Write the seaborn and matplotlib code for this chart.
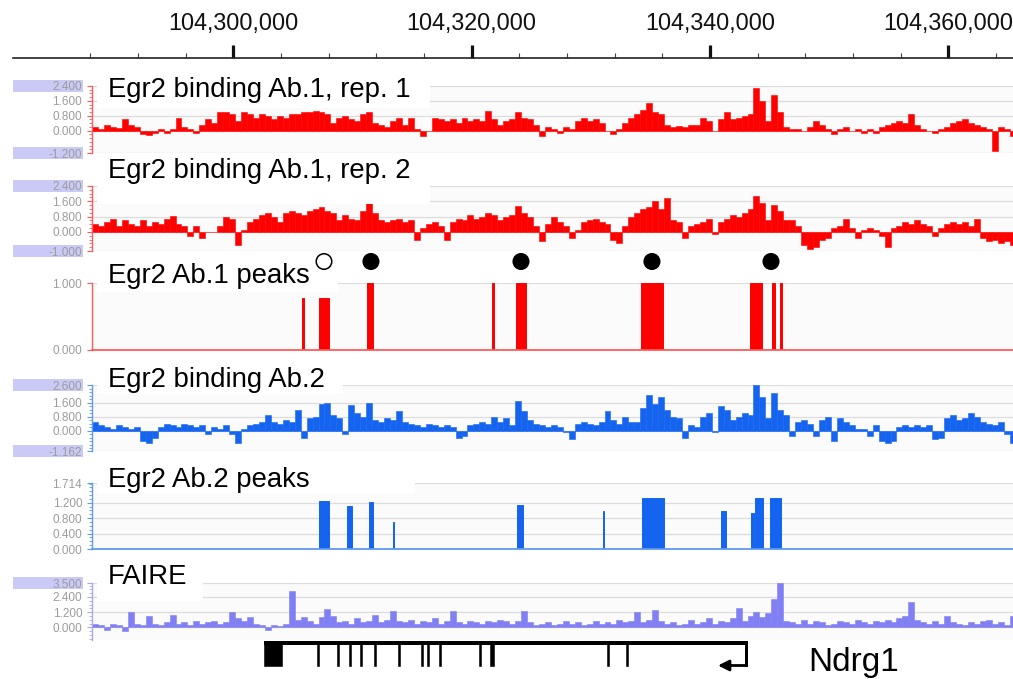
import numpy as np
import pandas as pd
import matplotlib
matplotlib.use("Agg")
import matplotlib.pyplot as plt
from matplotlib.patches import Rectangle
from matplotlib.ticker import MultipleLocator
import seaborn as sns

# ------------------------------------------------------------------ data
BIN_START = 104_288_150      # first signal bin (bp)
BIN_SIZE = 500               # signal bin size (bp)

rep1 = [0.2, 0.1, 0.3, 0.2, 0.15, 0.6, 0.3, 0.2, -0.2, -0.25,
        -0.15, 0.1, -0.1, 0.1, 0.7, 0.2, 0.1, -0.1, 0.3, 0.6,
        0.4, 1.0, 1.0, 0.9, 0.5, 1.0, 0.9, 0.7, 0.9, 0.8,
        0.6, 0.8, 0.7, 0.9, 0.9, 1.0, 1.0, 1.05, 1.0, 0.9,
        0.4, 0.7, 0.8, 0.6, 0.5, 0.9, 1.0, 0.4, 0.3, 0.2,
        0.5, 0.7, 0.3, 0.7, 0.1, -0.3, 0.0, 0.7, 0.6, 0.5,
        0.6, 0.4, 0.7, 0.5, 0.6, 0.5, 1.05, 0.6, 0.3, 0.5,
        0.6, 1.0, 0.7, 0.6, 0.3, -0.3, 0.2, 0.1, -0.1, 0.2,
        0.1, 0.5, 0.7, 0.5, 0.6, 0.4, 0.0, -0.2, 0.1, 0.4,
        0.7, 0.9, 1.1, 1.5, 1.0, 0.9, 0.3, 0.2, 0.25, 0.2,
        0.3, 0.3, 0.7, 0.5, 0.0, 0.6, 1.0, 0.6, 0.7, 0.8,
        0.9, 2.3, 1.6, 0.5, 1.9, 1.0, 0.2, 0.1, 0.1, 0.0,
        0.2, 0.5, 0.3, 0.1, -0.2, 0.1, 0.2, 0.0, 0.1, -0.1,
        0.1, -0.1, 0.2, 0.3, 0.4, 0.5, 0.4, 0.9, 0.3, 0.1,
        0.0, -0.1, 0.1, 0.2, 0.4, 0.5, 0.6, 0.4, 0.3, 0.2,
        0.1, -1.1, 0.2, 0.1, -0.3]

rep2 = [0.4, 0.3, 0.5, 0.7, 0.3, 0.6, 0.4, 0.3, 0.6, 0.3,
        0.5, 0.4, 0.7, 0.85, 0.4, 0.3, -0.2, 0.3, -0.3, 0.0,
        0.0, 0.3, 0.8, 0.7, -0.7, 0.1, 0.5, 0.7, 0.9, 1.0,
        0.8, 0.5, 1.0, 1.1, 1.0, 0.9, 1.1, 1.2, 1.3, 1.1,
        1.0, 0.6, 0.9, 0.7, 0.6, 1.1, 1.5, 1.0, 0.6, 0.5,
        0.6, 0.7, 0.5, 0.6, -0.4, 0.2, 0.4, 0.5, 0.3, -0.4,
        0.5, 0.7, 0.6, 0.9, 0.7, 0.8, 1.0, 0.9, 0.6, 0.8,
        0.9, 1.35, 1.0, 0.8, 0.3, -0.5, 0.4, 0.8, 0.5, 0.3,
        -0.3, 0.1, 0.5, 0.6, 0.7, 0.5, 0.4, -0.4, -0.6, 0.3,
        0.8, 1.0, 1.2, 1.3, 1.6, 1.2, 1.77, 0.6, 0.5, -0.3,
        0.3, 0.4, 0.5, 0.7, -0.1, 0.5, 0.7, 0.9, 0.8, 1.0,
        1.2, 1.9, 1.5, 0.6, 1.4, 1.1, 0.6, 0.6, 0.3, -0.7,
        -0.9, -0.8, -0.4, -0.3, 0.2, 0.3, 0.7, 0.2, -0.3, 0.1,
        0.2, 0.1, -0.2, -0.8, 0.2, 0.3, 0.5, 0.4, 0.6, 0.4,
        0.3, -0.2, 0.2, 0.4, 0.5, 0.4, 0.5, 0.3, 0.7, -0.3,
        -0.5, -0.4, -0.6, -0.5, -0.7]

ab2 = [0.5, 0.3, 0.2, 0.1, 0.3, 0.2, 0.1, 0.2, -0.6, -0.7,
       -0.4, 0.2, 0.4, 0.3, 0.2, 0.4, 0.3, 0.2, 0.3, -0.2,
       0.2, 0.1, 0.3, -0.2, -0.7, 0.1, 0.3, 0.4, 0.5, 0.9,
       0.5, 0.4, 0.6, 0.5, 1.2, -0.4, 0.7, 0.8, 1.5, 1.6,
       0.9, 0.7, -0.2, 1.45, 1.0, 0.8, 1.6, 0.6, 0.5, 0.7,
       0.6, 1.1, 0.5, 0.4, 0.3, 0.2, 0.4, 0.3, 0.2, 0.3,
       0.2, -0.4, -0.3, 0.3, 0.4, 0.5, 0.4, 0.8, 0.5, 0.7,
       0.3, 1.7, 1.1, 0.6, 0.4, 0.3, 0.2, 0.3, 0.2, -0.1,
       -0.5, 0.4, 0.5, 0.4, 0.3, 0.5, 1.1, 0.6, 0.4, 0.8,
       0.5, 0.5, 1.3, 2.05, 1.5, 1.9, 1.2, 0.8, 0.7, -0.4,
       0.3, 0.2, 0.8, 1.0, -0.1, 1.4, 1.2, 0.6, 0.8, 1.0,
       0.9, 2.6, 1.9, 0.7, 2.15, 1.2, 0.9, -0.3, 0.5, 0.6,
       0.4, -0.3, 0.6, 0.8, -0.6, 0.7, 0.5, 0.3, 0.1, 0.1,
       -0.3, 0.3, -0.6, -0.7, -0.6, 0.2, 0.3, 0.2, 0.3, 0.2,
       0.3, -0.5, -0.4, 0.7, 0.9, 0.6, 0.7, 1.0, 0.8, 0.5,
       0.4, 0.3, 0.5, -0.2, -0.7]

faire = [0.3, 0.2, -0.2, 0.3, 0.2, -0.3, 1.2, 0.3, 0.2, 0.9,
         0.3, 0.2, 0.4, 1.0, 0.3, 0.4, 0.2, 0.5, 0.3, 0.4,
         0.5, 0.3, 0.4, 1.2, 0.7, 0.5, 0.8, 0.3, 0.2, -0.2,
         0.2, 0.1, 0.3, 2.9, 0.6, 0.8, 0.5, 0.3, 0.8, 1.45,
         0.9, 0.4, 0.5, 0.3, 0.7, 0.4, 0.5, 1.0, 0.4, 0.6,
         1.3, 0.5, 0.4, 0.6, 0.3, 0.5, 0.4, 0.7, 0.3, 0.5,
         1.3, 0.4, 0.3, 0.5, 0.4, 0.3, 0.5, 0.4, 0.6, 0.5,
         0.3, 0.5, 1.3, 0.4, 0.2, 0.3, 0.4, 0.2, 0.3, 0.5,
         0.3, 0.4, 0.2, 0.3, 0.5, 0.3, 0.4, 0.3, 0.6, 0.4,
         0.5, 1.2, 0.4, 0.6, 1.4, 0.5, 0.3, 0.4, 0.2, 0.3,
         0.6, 0.3, 0.4, 0.7, 0.3, 0.5, 0.4, 0.7, 1.5, 0.5,
         0.9, 1.2, 0.8, 1.1, 2.2, 3.5, 0.5, 0.4, 0.3, 0.6,
         0.3, 0.5, 0.4, 0.2, 0.3, 0.5, 0.4, 0.3, 0.6, 0.4,
         0.3, 0.5, 0.4, 0.6, 0.4, 0.7, 0.9, 2.0, 0.6, 0.4,
         0.3, 0.5, 0.3, 0.9, 0.4, 0.3, 0.2, 0.4, 0.3, 0.5,
         0.6, 0.3, 0.4, 0.2, 0.9]

peaks1_start = [104305750, 104307170, 104311240, 104321710, 104323720,
                104334190, 104343380, 104345200, 104345880]
peaks1_end = [104305920, 104308010, 104311750, 104321850, 104324560,
              104336080, 104344390, 104345450, 104346020]
peaks1_height = [0.78, 0.78, 1.0, 1.0, 1.0, 1.0, 1.0, 1.0, 1.0]

circle_pos = [104307610, 104311550, 104324140, 104335130, 104345120]
circle_filled = [False, True, True, True, True]

peaks2_start = [104307190, 104309570, 104311360, 104313430, 104323830, 104331050,
                104334300, 104340900, 104343420, 104343750, 104345060]
peaks2_end = [104308030, 104309960, 104311720, 104313510, 104324310, 104331130,
              104336150, 104341340, 104343670, 104344470, 104345980]
peaks2_height = [1.25, 1.11, 1.21, 0.71, 1.13, 0.99, 1.33, 0.99, 0.94, 1.33, 1.33]

gene_name = "Ndrg1"
gene_start, gene_end = 104302570, 104343170
exon_start = [104302570, 104307000, 104308730, 104309710, 104310630, 104311780,
              104313800, 104315730, 104316230, 104317260, 104320640, 104321540,
              104331360, 104332930]
exon_end = [104304110, 104307170, 104308900, 104309880, 104310800, 104311950,
            104313970, 104315900, 104316400, 104317430, 104320810, 104321890,
            104331530, 104333100]
tss_arrow_tip = 104340670

ruler_major = [104300000, 104320000, 104340000, 104360000]
ruler_labels = ["104,300,000", "104,320,000", "104,340,000", "104,360,000"]
ruler_minor = [104288000, 104292000, 104296000, 104304000, 104308000, 104312000,
               104316000, 104324000, 104328000, 104332000, 104336000, 104344000,
               104348000, 104352000, 104356000, 104364000]

track_titles = ["Egr2 binding Ab.1, rep. 1", "Egr2 binding Ab.1, rep. 2",
                "Egr2 Ab.1 peaks", "Egr2 binding Ab.2", "Egr2 Ab.2 peaks", "FAIRE"]
ticks_rep1 = [2.4, 1.6, 0.8, 0.0, -1.2]
ticks_rep2 = [2.4, 1.6, 0.8, 0.0, -1.0]
ticks_pk1 = [1.0, 0.0]
ticks_ab2 = [2.6, 1.6, 0.8, 0.0, -1.162]
ticks_pk2 = [1.714, 1.2, 0.8, 0.4, 0.0]
ticks_faire = [3.5, 2.4, 1.2, 0.0]

# ------------------------------------------------------------------ style / layout
sns.set_theme(style="white")
plt.rcParams["font.family"] = ["Liberation Sans", "DejaVu Sans"]

W, H = 1013, 679
fig = plt.figure(figsize=(W / 100, H / 100), dpi=100)
fig.patch.set_facecolor("white")

RED = "#ff0000"
BLUE = "#1464f0"
LAV = "#8080f4"
RED_AX = "#ff5a5a"
BLUE_AX = "#5e9af2"
LAV_AX = "#a6a6f2"
LABEL_C = "#9c9c9c"
BOX_C = "#cacaf6"
GRID_C = "#dcdcdc"

PX_PER_KB = 11.917
X_AT_300 = 233.3


def gpos(px):
    return 104_300_000 + (px - X_AT_300) * 1000.0 / PX_PER_KB


XL, XR = gpos(92), gpos(1013)


def add_ax(x0, y0, x1, y1):
    return fig.add_axes([x0 / W, 1 - y1 / H, (x1 - x0) / W, (y1 - y0) / H])


def px_rect(x0, y0, x1, y1, color, z):
    r = Rectangle((x0 / W, 1 - y1 / H), (x1 - x0) / W, (y1 - y0) / H,
                  transform=fig.transFigure, facecolor=color, edgecolor="none", zorder=z)
    fig.add_artist(r)


def style_track(ax, ylim, ticks, axc, minor=None, baseline=False):
    ax.set_xlim(XL, XR)
    ax.set_ylim(*ylim)
    ax.set_facecolor("#fbfbfb")
    for s in ["top", "right", "bottom"]:
        ax.spines[s].set_visible(False)
    ax.spines["left"].set_color(axc)
    ax.spines["left"].set_linewidth(1.0)
    ax.set_yticks(ticks)
    ax.set_yticklabels([f"{t:.3f}" for t in ticks])
    ax.tick_params(axis="y", which="major", left=True, length=3.6, width=0.8,
                   color=axc, labelcolor=LABEL_C, labelsize=8.5, pad=3.4)
    if minor:
        ax.yaxis.set_minor_locator(MultipleLocator(minor))
        ax.tick_params(axis="y", which="minor", left=True, length=2.2, width=0.6, color=axc)
    ax.set_xticks([])
    ax.set_xlabel("")
    ax.set_ylabel("")
    ax.grid(axis="y", which="major", color=GRID_C, lw=0.9)
    ax.grid(axis="x", visible=False)
    ax.set_axisbelow(True)
    if baseline:
        ax.spines["bottom"].set_visible(True)
        ax.spines["bottom"].set_color(axc)
        ax.spines["bottom"].set_linewidth(1.3)


def signal(ax, values, color):
    centers = BIN_START + BIN_SIZE * (np.arange(len(values)) + 0.5)
    df = pd.DataFrame({"pos": centers, "val": values})
    sns.barplot(data=df, x="pos", y="val", native_scale=True, width=1.0,
                color=color, saturation=1, errorbar=None,
                linewidth=0.4, edgecolor=color, ax=ax, zorder=2)


def peaks(ax, starts, ends, heights, color):
    s = np.array(starts)
    w = np.array(ends) - s
    ax.bar(s, heights, width=w, align="edge", color=color,
           edgecolor=color, linewidth=0.7, zorder=2)


# ---- ruler
axr = add_ax(13, 30, 1013, 58)
axr.set_xlim(gpos(13), gpos(1013))
axr.set_ylim(0, 1)
axr.set_facecolor("white")
for s in ["top", "right", "left"]:
    axr.spines[s].set_visible(False)
axr.spines["bottom"].set_color("#222222")
axr.spines["bottom"].set_linewidth(1.2)
axr.set_yticks([])
axr.set_xticks(ruler_major)
axr.set_xticklabels([])
axr.set_xticks(ruler_minor, minor=True)
axr.tick_params(axis="x", which="major", direction="in", length=9.5, width=2.3,
                color="#111111", bottom=True)
axr.tick_params(axis="x", which="minor", direction="in", length=3.5, width=0.8,
                color="#444444", bottom=True)
axr.grid(False)
for pos, lab in zip(ruler_major, ruler_labels):
    axr.text(pos, 1.0, lab, transform=axr.get_xaxis_transform(), ha="center",
             va="baseline", fontsize=16.8, color="#111111")

# ---- tracks  (pixel top, pixel bottom, ylim)
ax1 = add_ax(92, 86, 1013, 153)
signal(ax1, rep1, RED)
style_track(ax1, (-1.2, 2.4), ticks_rep1, RED_AX, minor=0.2)

ax2 = add_ax(92, 186, 1013, 251)
signal(ax2, rep2, RED)
style_track(ax2, (-1.0, 2.4), ticks_rep2, RED_AX, minor=0.2)

ax3 = add_ax(92, 283, 1013, 350)
peaks(ax3, peaks1_start, peaks1_end, peaks1_height, RED)
style_track(ax3, (0, 1.0), ticks_pk1, RED_AX, baseline=True)

ax4 = add_ax(92, 385, 1013, 451)
signal(ax4, ab2, BLUE)
style_track(ax4, (-1.162, 2.6), ticks_ab2, BLUE_AX, minor=0.2)

ax5 = add_ax(92, 483, 1013, 549)
peaks(ax5, peaks2_start, peaks2_end, peaks2_height, BLUE)
style_track(ax5, (0, 1.714), ticks_pk2, BLUE_AX, minor=0.1, baseline=True)

ax6 = add_ax(92, 583, 1013, 640)
signal(ax6, faire, LAV)
style_track(ax6, (-1.0, 3.5), ticks_faire, LAV_AX, minor=0.3)

# lavender boxes behind the extreme scale labels (pixel y of tick)
for ypix in [86, 153, 186, 251, 385, 451, 583]:
    px_rect(13, ypix - 6, 83, ypix + 6, BOX_C, -1)

# white title boxes hiding the gridlines
title_boxes = [(97, 74, 430, 108), (97, 160, 430, 204), (97, 256, 338, 292),
               (97, 362, 343, 394), (97, 462, 415, 493), (97, 560, 203, 601)]
for (x0, y0, x1, y1) in title_boxes:
    px_rect(x0, y0, x1, y1, "white", 0.5)

title_baselines = [97, 178, 283, 387, 487, 584]
for t, yb in zip(track_titles, title_baselines):
    fig.text(108 / W, 1 - yb / H, t, ha="left", va="baseline", fontsize=19.8,
             color="black", zorder=3)

# ---- peak-call markers (overlay strip above the Ab.1 peak track)
axc = add_ax(92, 251, 1013, 272)
axc.set_zorder(2)
axc.patch.set_visible(False)
axc.set_xlim(XL, XR)
axc.set_ylim(0, 1)
axc.axis("off")
axc.scatter(circle_pos, [0.5] * len(circle_pos), s=125,
            facecolors=["black" if f else "white" for f in circle_filled],
            edgecolors="black", linewidths=1.1, clip_on=False, zorder=6)

# ---- gene model
axg = add_ax(92, 636, 1013, 672)
axg.set_xlim(XL, XR)
axg.set_ylim(672, 636)
axg.axis("off")
axg.bar(gene_start, 4, width=gene_end - gene_start, bottom=641, align="edge",
        color="black", linewidth=0)
es = np.array(exon_start)
axg.bar(es, 25, width=np.array(exon_end) - es, bottom=641, align="edge",
        color="black", edgecolor="black", linewidth=0.4)
axg.bar(gene_end - 200, 26, width=200, bottom=641, align="edge",
        color="black", linewidth=0)
axg.annotate("", xy=(tss_arrow_tip, 665.5), xytext=(gene_end - 100, 665.5),
             arrowprops=dict(arrowstyle="-|>", color="black", lw=2.0,
                             mutation_scale=16, shrinkA=0, shrinkB=0))
fig.text(808 / W, 1 - 671 / H, gene_name, ha="left", va="baseline",
         fontsize=24, color="black")

fig.savefig("out.png", dpi=100, facecolor="white")
